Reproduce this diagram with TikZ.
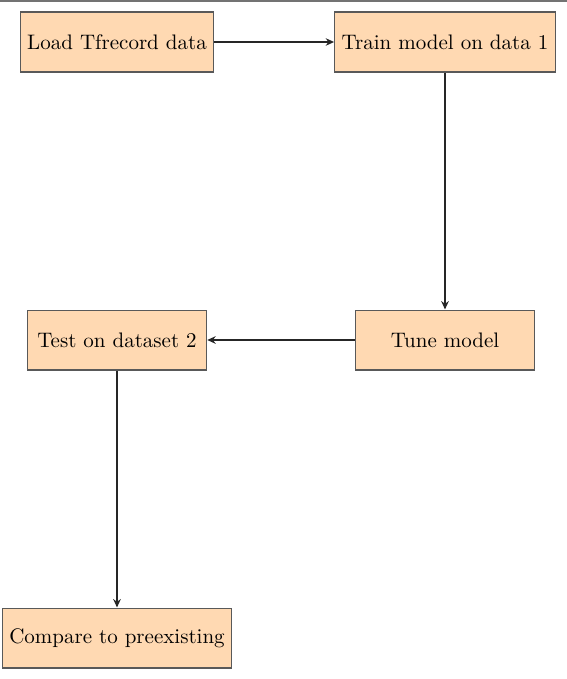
\documentclass[tikz,border=0pt]{standalone}
\usetikzlibrary{arrows.meta}
\begin{document}
\begin{tikzpicture}[x=0.4762pt,y=-0.4762pt,
  procbox/.style={rectangle,draw=black!65,fill=orange!30,line width=0.6pt,minimum width=3cm,minimum height=1cm,inner sep=0.3333em,font=\normalsize},
  flow/.style={-{Stealth[length=4pt,width=3.6pt]},thick,black!85}]
\useasboundingbox (0,0) rectangle (567,679);
\draw[black!55,line width=1pt] (0,1) -- (567,1);
\node[procbox] (load) at (117,42) {Load Tfrecord data};
\node[procbox] (train) at (445,42) {Train model on data 1};
\node[procbox] (tune) at (445,340) {Tune model};
\node[procbox] (test) at (117,340) {Test on dataset 2};
\node[procbox] (cmp) at (117,638) {Compare to preexisting};
\draw[flow] (load) -- (train);
\draw[flow] (train) -- (tune);
\draw[flow] (tune) -- (test);
\draw[flow] (test) -- (cmp);
\end{tikzpicture}
\end{document}
